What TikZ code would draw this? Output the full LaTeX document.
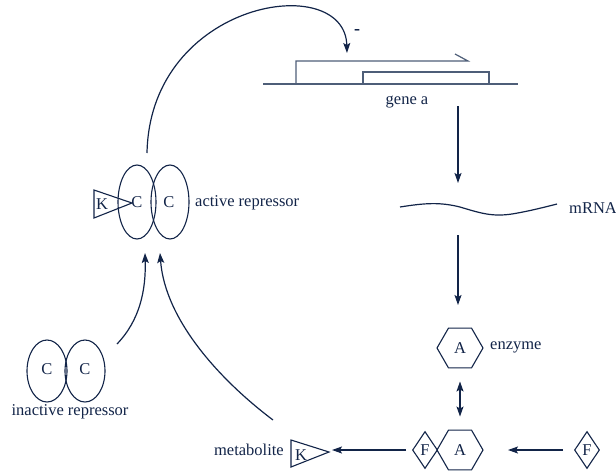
\documentclass[tikz,border=0pt]{standalone}
\usepackage{fontspec}
\setmainfont{Liberation Serif}
\usetikzlibrary{arrows.meta,shapes.geometric,calc}
\definecolor{navy}{RGB}{18,36,72}
\definecolor{dnaline}{RGB}{78,94,120}
\begin{document}
\begin{tikzpicture}[x=1pt,y=-1pt,
  >={Stealth[length=10pt,width=7pt,inset=2pt]},
  every node/.style={text=navy,font=\rmfamily\fontsize{16.5}{19}\selectfont},
  lbl/.style={inner sep=0pt},
  cell/.style={ellipse,draw=navy,line width=1.1pt,inner sep=0pt},
  hexa/.style={regular polygon,regular polygon sides=6,draw=navy,line width=1.1pt,minimum size=46pt,inner sep=0pt},
  rhomb/.style={diamond,draw=navy,line width=1.1pt,minimum width=25pt,minimum height=37pt,inner sep=0pt},
  wedge/.style={draw=navy,line width=1.1pt},
  flow/.style={draw=navy,line width=1.2pt,->},
  dna/.style={draw=dnaline,line width=1.2pt}]
\useasboundingbox (0,0) rectangle (616,472);

% gene a: DNA strand, promoter bracket and coding box
\draw[dna] (263,84) -- (518,84);
\draw[dna] (296,84) -- (296,61) -- (468,61) -- (455,54);
\draw[dna] (363,84) rectangle (489,72);
\node[lbl] (gene) at (407,102) {gene a};
\node[lbl,font=\fontsize{18}{19}\selectfont\bfseries] (minus) at (357,32) {-};

% mRNA
\draw[navy,line width=1.2pt] (400,207) .. controls (425,203) and (440,202) .. (460,207)
  .. controls (480,213) and (492,217) .. (512,214) .. controls (530,211) and (545,207) .. (557,204);
\node[lbl,anchor=west] (mrna) at (569,208) {mRNA};

% active repressor: dimer with bound metabolite
\node[cell,minimum width=38pt,minimum height=74pt] (ac1) at (137,202) {};
\node[cell,minimum width=38pt,minimum height=74pt] (ac2) at (170,202) {};
\node[lbl] at (137,202) {C};
\node[lbl] at (169,202) {C};
\draw[wedge] (94,190) -- (94,218) -- (132,203) -- cycle;
\node[lbl] (ka) at (102,204) {K};
\node[lbl,anchor=west] (actlbl) at (195,203) {active repressor};

% inactive repressor
\node[cell,minimum width=40pt,minimum height=62pt] (ic1) at (47,371) {};
\node[cell,minimum width=40pt,minimum height=62pt] (ic2) at (85,371) {};
\node[lbl] at (47,369) {C};
\node[lbl] at (85,369) {C};
\node[lbl] (inactlbl) at (70,412) {inactive repressor};

% enzyme and enzyme--F complex
\node[hexa] (enz) at (460,348) {A};
\node[lbl,anchor=west] (enzlbl) at (490,347) {enzyme};
\node[hexa] (cplx) at (460,450) {A};
\node[rhomb] (fb) at (425,450) {F};
\node[rhomb] (ff) at (587,450) {F};

% metabolite
\draw[wedge] (291,440) -- (291,467) -- (329,452) -- cycle;
\node[lbl] (km) at (301,455) {K};
\node[lbl,anchor=east] (metlbl) at (284,450) {metabolite};

% connector end points
\coordinate (arcS) at (147,153);
\coordinate (arcE) at (347,53);
\coordinate (g1) at (458,106);
\coordinate (g2) at (458,183);
\coordinate (m1) at (458,235);
\coordinate (m2) at (458,305);
\coordinate (i1) at (117,344);
\coordinate (i2) at (145,253);
\coordinate (k1) at (273,420);
\coordinate (k2) at (160,253);
\coordinate (f1) at (563,450);
\coordinate (f2) at (508,450);
\coordinate (c1) at (406,450);
\coordinate (c2) at (332,450);

% connectors
\draw[flow] (arcS) .. controls (150,0) and (345,-30) .. (arcE);
\draw[flow] (g1) -- (g2);
\draw[flow] (m1) -- (m2);
\draw[draw=navy,line width=1.2pt,<->]
  ($(enz.south)+(0,13)$) -- ($(cplx.north)+(0,-13)$);
\draw[flow] (f1) -- (f2);
\draw[flow] (c1) -- (c2);
\draw[flow] (i1) .. controls (140,320) and (146,290) .. (i2);
\draw[flow] (k1) .. controls (220,380) and (165,320) .. (k2);
\end{tikzpicture}
\end{document}
